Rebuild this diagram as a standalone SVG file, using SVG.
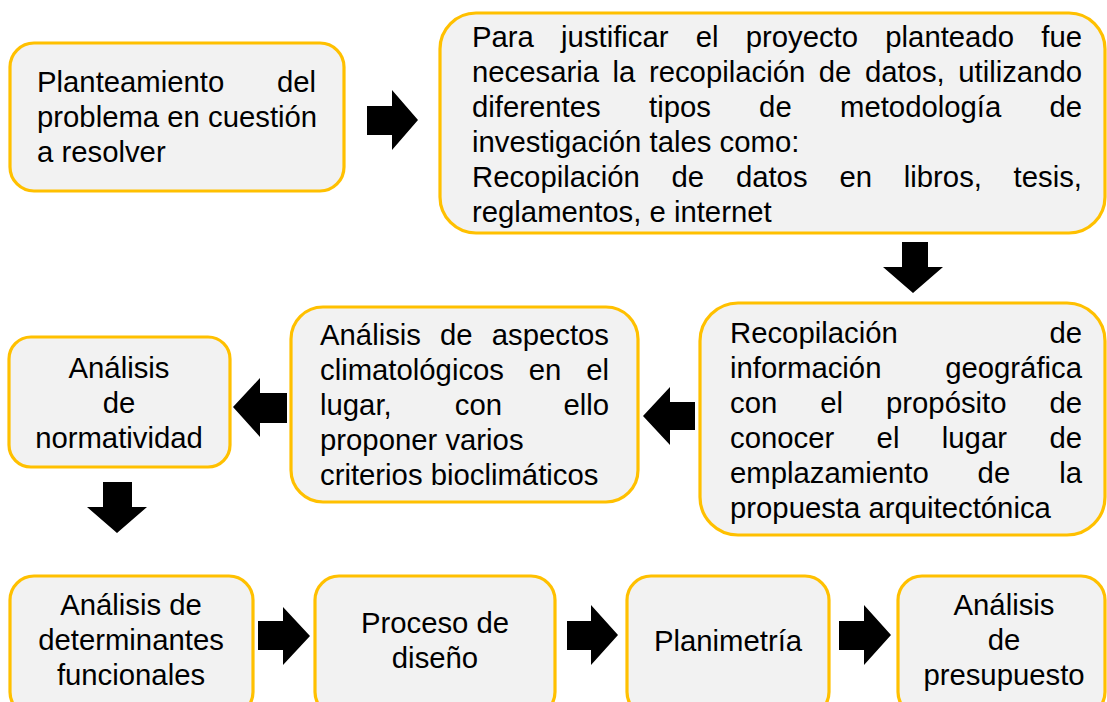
<svg xmlns="http://www.w3.org/2000/svg" width="1107" height="702" viewBox="0 0 1107 702">
<style>
.box{fill:#F2F2F2;stroke:#FFC000;stroke-width:3.2}
.t{font-family:"Liberation Sans",Arial,sans-serif;font-size:29.3px;fill:#000}
.c{text-anchor:middle}
.e{text-anchor:end}
.arr{fill:#000}
</style>
<rect width="1107" height="702" fill="#fff"/>
<g id="n1">
<rect class="box" x="10" y="43" width="334" height="148" rx="24"/>
<text class="t" x="37" y="92">Planteamiento</text><text class="t e" x="316" y="92">del</text>
<text class="t" x="37" y="127">problema en cuestión</text>
<text class="t" x="37" y="162">a resolver</text>
</g>
<g id="n2">
<rect class="box" x="440" y="13" width="665" height="220" rx="36"/>
<text class="t" y="47"><tspan x="472">Para</tspan><tspan x="561.1">justificar</tspan><tspan x="695.7">el</tspan><tspan x="745.7">proyecto</tspan><tspan x="885.3">planteado</tspan></text><text class="t e" x="1082" y="47">fue</text>
<text class="t" y="82"><tspan x="472">necesaria</tspan><tspan x="612.5">la</tspan><tspan x="648.9">recopilación</tspan><tspan x="818.7">de</tspan><tspan x="864.9">datos,</tspan></text><text class="t e" x="1082" y="82">utilizando</text>
<text class="t" y="117"><tspan x="472">diferentes</tspan><tspan x="649">tipos</tspan><tspan x="759.1">de</tspan><tspan x="840">metodología</tspan></text><text class="t e" x="1082" y="117">de</text>
<text class="t" x="472" y="152">investigación tales como:</text>
<text class="t" y="187"><tspan x="472">Recopilación</tspan><tspan x="671.5">de</tspan><tspan x="735.9">datos</tspan><tspan x="839.4">en</tspan><tspan x="903.8">libros,</tspan></text><text class="t e" x="1082" y="187">tesis,</text>
<text class="t" x="472" y="222">reglamentos, e internet</text>
</g>
<g id="n3">
<rect class="box" x="700" y="303" width="405" height="232" rx="38"/>
<text class="t" x="730" y="343">Recopilación</text><text class="t e" x="1082" y="343">de</text>
<text class="t" x="730" y="378">información</text><text class="t e" x="1082" y="378">geográfica</text>
<text class="t" y="413"><tspan x="730">con</tspan><tspan x="820.2">el</tspan><tspan x="886">propósito</tspan></text><text class="t e" x="1082" y="413">de</text>
<text class="t" y="448"><tspan x="730">conocer</tspan><tspan x="876.6">el</tspan><tspan x="941.8">lugar</tspan></text><text class="t e" x="1082" y="448">de</text>
<text class="t" y="483"><tspan x="730">emplazamiento</tspan><tspan x="977.6">de</tspan></text><text class="t e" x="1082" y="483">la</text>
<text class="t" x="730" y="518">propuesta arquitectónica</text>
</g>
<g id="n4">
<rect class="box" x="291" y="307" width="347" height="195" rx="32"/>
<text class="t" y="345"><tspan x="320">Análisis</tspan><tspan x="440">de</tspan></text><text class="t e" x="609" y="345">aspectos</text>
<text class="t" y="380"><tspan x="320">climatológicos</tspan><tspan x="528.8">en</tspan></text><text class="t e" x="609" y="380">el</text>
<text class="t" y="415"><tspan x="320">lugar,</tspan><tspan x="454.8">con</tspan></text><text class="t e" x="609" y="415">ello</text>
<text class="t" x="320" y="450">proponer varios</text>
<text class="t" x="320" y="485">criterios bioclimáticos</text>
</g>
<g id="n5">
<rect class="box" x="9" y="337" width="221" height="130" rx="22"/>
<text class="t c" x="119" y="378">Análisis</text>
<text class="t c" x="119" y="413">de</text>
<text class="t c" x="119" y="448">normatividad</text>
</g>
<g id="n6">
<rect class="box" x="10" y="576" width="243" height="140" rx="24"/>
<text class="t c" x="131" y="615">Análisis de</text>
<text class="t c" x="131" y="650">determinantes</text>
<text class="t c" x="131" y="685">funcionales</text>
</g>
<g id="n7">
<rect class="box" x="315" y="576" width="240" height="140" rx="24"/>
<text class="t c" x="435" y="633">Proceso de</text>
<text class="t c" x="435" y="668">diseño</text>
</g>
<g id="n8">
<rect class="box" x="627" y="576" width="202" height="140" rx="24"/>
<text class="t c" x="728" y="651">Planimetría</text>
</g>
<g id="n9">
<rect class="box" x="898" y="576" width="207" height="140" rx="24"/>
<text class="t c" x="1004" y="615">Análisis</text>
<text class="t c" x="1004" y="650">de</text>
<text class="t c" x="1004" y="685">presupuesto</text>
</g>
<g id="connectors">
<polygon class="arr" points="367,106 392,106 392,90 418,120 392,150 392,135 367,135"/>
<polygon class="arr" points="902,242 928,242 928,267 943,267 913,293 883,267 902,267"/>
<polygon class="arr" points="695,402 670,402 670,387 643,416 670,445 670,430 695,430"/>
<polygon class="arr" points="287,393 260,393 260,378 233,407 260,437 260,423 287,423"/>
<polygon class="arr" points="103,482 132,482 132,507 147,507 117,533 87,507 103,507"/>
<polygon class="arr" points="258,621 283,621 283,607 310,636 283,665 283,650 258,650"/>
<polygon class="arr" points="567,621 591,621 591,605 618,635 591,665 591,650 567,650"/>
<polygon class="arr" points="839,621 864,621 864,605 891,635 864,665 864,650 839,650"/>
</g>
</svg>
